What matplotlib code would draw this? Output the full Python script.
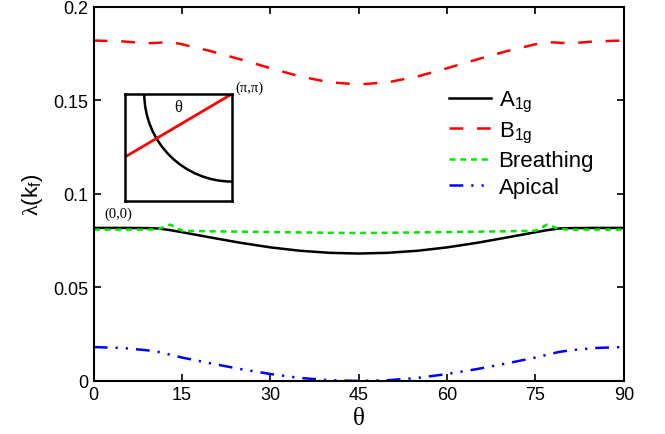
import matplotlib
matplotlib.use("Agg")
import matplotlib.pyplot as plt
from matplotlib.patches import Arc

plt.rcParams['font.family'] = ['Liberation Sans', 'DejaVu Sans']
plt.rcParams['mathtext.fontset'] = 'custom'
plt.rcParams['mathtext.rm'] = 'Liberation Serif'
plt.rcParams['mathtext.sf'] = 'Liberation Sans'

# angle along the Fermi surface (degrees)
theta = [0, 5, 9, 11, 13, 15, 20, 25, 30, 35, 40, 45,
         50, 55, 60, 65, 70, 75, 77, 79, 81, 85, 90]

a1g = [0.0818, 0.0818, 0.0817, 0.0815, 0.0806, 0.0795, 0.0766, 0.0738, 0.0714, 0.0696, 0.0685, 0.0681,
       0.0685, 0.0696, 0.0714, 0.0738, 0.0766, 0.0795, 0.0806, 0.0815, 0.0817, 0.0818, 0.0818]
b1g = [0.1820, 0.1815, 0.1805, 0.1808, 0.1812, 0.1800, 0.1762, 0.1718, 0.1672, 0.1628, 0.1597, 0.1585,
       0.1597, 0.1628, 0.1672, 0.1718, 0.1762, 0.1800, 0.1812, 0.1808, 0.1805, 0.1815, 0.1820]
breathing = [0.0809, 0.0809, 0.0809, 0.0812, 0.0836, 0.0803, 0.0800, 0.0798, 0.0796, 0.0794, 0.0792, 0.0791,
             0.0792, 0.0794, 0.0796, 0.0798, 0.0800, 0.0803, 0.0836, 0.0812, 0.0809, 0.0809, 0.0809]
apical = [0.0181, 0.0176, 0.0164, 0.0155, 0.0140, 0.0125, 0.0093, 0.0063, 0.0037, 0.0016, 0.0004, 0.0000,
          0.0004, 0.0016, 0.0037, 0.0063, 0.0093, 0.0125, 0.0140, 0.0155, 0.0164, 0.0176, 0.0181]

xticks = [0, 15, 30, 45, 60, 75, 90]
yticks = [0, 0.05, 0.1, 0.15, 0.2]
ytick_labels = ["0", "0.05", "0.1", "0.15", "0.2"]

fig = plt.figure(figsize=(6.65, 4.35), dpi=100)
ax = fig.add_axes([0.141, 0.122, 0.797, 0.860])

lw = 1.8
ax.plot(theta, a1g, color='black', lw=lw, label=r"A$_\mathsf{1g}$")
ax.plot(theta, b1g, color='#ff0000', lw=lw, dashes=(5.5, 5.5), label=r"B$_\mathsf{1g}$")
ax.plot(theta, breathing, color='#00e600', lw=lw, dashes=(2.4, 1.9), label="Breathing")
ax.plot(theta, apical, color='#0000ff', lw=lw, dashes=(5.5, 3.2, 0.9, 3.2, 0.9, 3.2), label="Apical")

ax.set_xlim(0, 90)
ax.set_ylim(0, 0.2)
ax.set_xticks(xticks)
ax.set_yticks(yticks)
ax.set_yticklabels(ytick_labels)
ax.tick_params(direction='in', length=5, width=1.2, labelsize=13, top=True, right=True, pad=4)
for s in ax.spines.values():
    s.set_linewidth(1.5)

ax.set_xlabel(r"$\mathrm{\theta}$", fontsize=18, labelpad=1)
ax.set_ylabel(r"$\mathrm{\lambda}$(k$_\mathsf{f}$)", fontsize=16, labelpad=6)

leg = ax.legend(loc='upper left', bbox_to_anchor=(0.64, 0.822), frameon=False, fontsize=16,
                handlelength=1.9, handletextpad=0.35, labelspacing=0.25, borderpad=0.2)

# inset: Fermi surface schematic
ins = fig.add_axes([0.188, 0.536, 0.161, 0.246])
ins.set_xlim(0, 1)
ins.set_ylim(0, 1)
ins.set_xticks([])
ins.set_yticks([])
for s in ins.spines.values():
    s.set_linewidth(1.8)
ins.plot([0, 1], [0.41, 1], color='#ff0000', lw=2.0)
ins.add_patch(Arc((1, 1), 1.64, 1.64, theta1=180, theta2=270, color='black', lw=1.8))
ins.text(0.5, 0.88, "θ", fontsize=12, ha='center', va='center', family='Liberation Serif')
ins.text(1.03, 1.0, "(π,π)", fontsize=10.5, ha='left', va='bottom', family='Liberation Serif')
ins.text(-0.06, -0.05, "(0,0)", fontsize=10.5, ha='center', va='top', family='Liberation Serif')

fig.savefig("out.png", dpi=100)
